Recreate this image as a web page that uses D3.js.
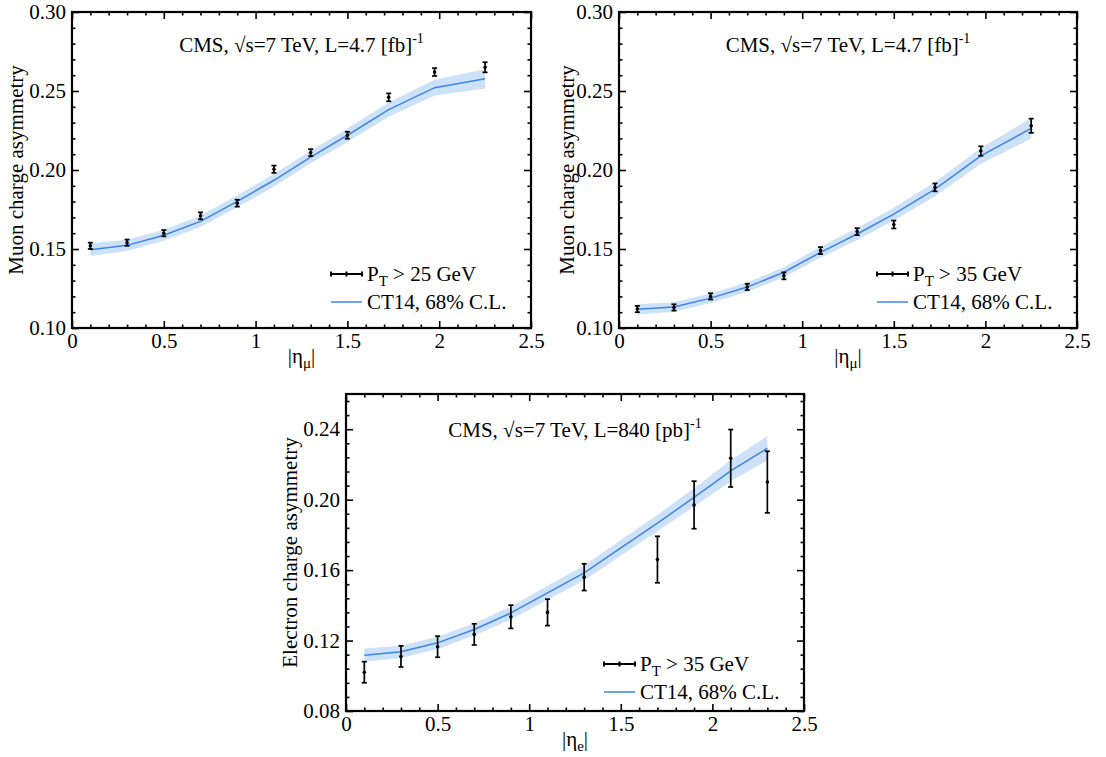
<!DOCTYPE html>
<html><head><meta charset="utf-8">
<script src="https://cdn.jsdelivr.net/npm/d3@7"></script>
<style>
body{margin:0;background:#fff}
svg{display:block}
text{font-family:"Liberation Serif","Times New Roman",serif;fill:#000}
</style>
</head><body>
<svg id="c" width="1106" height="757"></svg>
<script>
// ---------- data ----------
const etaMu = [0.1,0.3,0.5,0.7,0.9,1.1,1.3,1.5,1.725,1.975,2.25];
const muon25Asym = [0.152,0.154,0.160,0.171,0.179,0.2005,0.211,0.222,0.246,0.262,0.265];
const muon25Err  = [0.002,0.002,0.002,0.0022,0.0022,0.0023,0.0022,0.0022,0.0025,0.0025,0.0032];
const ct14Mu25    = [0.1496,0.1523,0.1587,0.1675,0.1802,0.1935,0.2082,0.2220,0.2382,0.2521,0.2578];
const ct14Mu25Err = [0.0040,0.0035,0.0035,0.0035,0.0038,0.0040,0.0040,0.0042,0.0045,0.0050,0.0062];

const muon35Asym = [0.112,0.113,0.120,0.126,0.133,0.149,0.161,0.1655,0.189,0.212,0.228];
const muon35Err  = [0.002,0.002,0.002,0.002,0.0022,0.0022,0.0022,0.0025,0.0025,0.003,0.0045];
const ct14Mu35    = [0.1118,0.1133,0.1189,0.1259,0.1353,0.1479,0.1595,0.1721,0.1879,0.2089,0.2264];
const ct14Mu35Err = [0.0032,0.0030,0.0030,0.0030,0.0032,0.0035,0.0038,0.0040,0.0045,0.0050,0.0065];

const etaE = [0.1,0.3,0.5,0.7,0.9,1.1,1.3,1.7,1.9,2.1,2.3];
const elecAsym = [0.102,0.111,0.1165,0.1235,0.1335,0.136,0.156,0.166,0.197,0.2235,0.210];
const elecErr  = [0.006,0.006,0.006,0.006,0.0066,0.0075,0.0076,0.0132,0.0135,0.0163,0.0175];
const ctEtaE   = [0.1,0.3,0.5,0.7,0.9,1.1,1.3,1.5,1.7,1.9,2.1,2.3];
const ct14E    = [0.1117,0.1136,0.1187,0.1263,0.1357,0.1471,0.1584,0.1726,0.1867,0.2013,0.2164,0.2292];
const ct14EErr = [0.0038,0.0035,0.0035,0.0035,0.0037,0.0040,0.0042,0.0045,0.0047,0.0052,0.0060,0.0069];

const xTicks = [0,0.5,1,1.5,2,2.5];
const yTicksMu = [0.10,0.15,0.20,0.25,0.30];
const yTicksE = [0.08,0.12,0.16,0.20,0.24];

const lineColor = "#3f84ea";
const bandColor = "#cde1f8";

const svg = d3.select("#c");

function panel(cfg){
  const x = d3.scaleLinear().domain([0,2.5]).range([cfg.l,cfg.r]);
  const y = d3.scaleLinear().domain(cfg.yDom).range([cfg.b,cfg.t]);
  const g = svg.append("g");

  const th = cfg.thX.map((v,i)=>({x:v,y:cfg.thY[i],e:cfg.thE[i]}));
  g.append("path").datum(th).attr("fill",bandColor)
    .attr("d", d3.area().x(d=>x(d.x)).y0(d=>y(d.y-d.e)).y1(d=>y(d.y+d.e)));
  g.append("path").datum(th).attr("fill","none").attr("stroke",lineColor).attr("stroke-width",1.5)
    .attr("d", d3.line().x(d=>x(d.x)).y(d=>y(d.y)));

  const pts = cfg.dX.map((v,i)=>({x:v,y:cfg.dY[i],e:cfg.dE[i]}));
  const pg = g.append("g").attr("stroke","#000").attr("stroke-width",1.7);
  pg.selectAll("line.v").data(pts).join("line").attr("class","v")
    .attr("x1",d=>x(d.x)).attr("x2",d=>x(d.x)).attr("y1",d=>y(d.y-d.e)).attr("y2",d=>y(d.y+d.e));
  pg.selectAll("line.t").data(pts).join("line").attr("class","t")
    .attr("x1",d=>x(d.x)-2.5).attr("x2",d=>x(d.x)+2.5).attr("y1",d=>y(d.y+d.e)).attr("y2",d=>y(d.y+d.e));
  pg.selectAll("line.b").data(pts).join("line").attr("class","b")
    .attr("x1",d=>x(d.x)-2.5).attr("x2",d=>x(d.x)+2.5).attr("y1",d=>y(d.y-d.e)).attr("y2",d=>y(d.y-d.e));
  g.selectAll("circle.p").data(pts).join("circle").attr("class","p")
    .attr("cx",d=>x(d.x)).attr("cy",d=>y(d.y)).attr("r",1.8).attr("fill","#000");

  // axes
  const xMinor = d3.range(0,26).map(i=>i/10).filter(v=>!xTicks.some(t=>Math.abs(t-v)<1e-9));
  const [y0,y1] = cfg.yDom;
  const nMin = Math.floor((y1-y0)/cfg.yMinor+1e-6);
  const yMinor = d3.range(0,nMin+1).map(i=>y0+i*cfg.yMinor)
    .filter(v=>v<=y1+1e-9 && !cfg.yTicks.some(t=>Math.abs(t-v)<1e-9));
  const fmtY = d3.format(".2f");
  const fmtX = d3.format("~g");

  function style(sel){
    sel.select(".domain").remove();
    sel.selectAll("line").attr("stroke","#000").attr("stroke-width",1.6);
    sel.selectAll("text").attr("font-size",21).attr("fill","#000");
    sel.attr("font-family",null).attr("font-size",null);
  }
  g.append("g").attr("transform",`translate(0,${cfg.b})`)
    .call(d3.axisBottom(x).tickValues(xTicks).tickSize(-7).tickPadding(5).tickFormat(fmtX)).call(style);
  g.append("g").attr("transform",`translate(0,${cfg.b})`)
    .call(d3.axisBottom(x).tickValues(xMinor).tickSize(-3.5).tickFormat("")).call(style);
  g.append("g").attr("transform",`translate(0,${cfg.t})`)
    .call(d3.axisTop(x).tickValues(xTicks).tickSize(-7).tickFormat("")).call(style);
  g.append("g").attr("transform",`translate(0,${cfg.t})`)
    .call(d3.axisTop(x).tickValues(xMinor).tickSize(-3.5).tickFormat("")).call(style);
  g.append("g").attr("transform",`translate(${cfg.l},0)`)
    .call(d3.axisLeft(y).tickValues(cfg.yTicks).tickSize(-7).tickPadding(6).tickFormat(fmtY)).call(style);
  g.append("g").attr("transform",`translate(${cfg.l},0)`)
    .call(d3.axisLeft(y).tickValues(yMinor).tickSize(-3.5).tickFormat("")).call(style);
  g.append("g").attr("transform",`translate(${cfg.r},0)`)
    .call(d3.axisRight(y).tickValues(cfg.yTicks).tickSize(-7).tickFormat("")).call(style);
  g.append("g").attr("transform",`translate(${cfg.r},0)`)
    .call(d3.axisRight(y).tickValues(yMinor).tickSize(-3.5).tickFormat("")).call(style);

  g.append("rect").attr("x",cfg.l).attr("y",cfg.t).attr("width",cfg.r-cfg.l).attr("height",cfg.b-cfg.t)
    .attr("fill","none").attr("stroke","#000").attr("stroke-width",2.2);

  // title
  const tt = g.append("text").attr("x",(cfg.l+cfg.r)/2).attr("y",cfg.t+cfg.titleDy)
    .attr("text-anchor","middle").attr("font-size",21);
  tt.append("tspan").text(cfg.title);
  tt.append("tspan").attr("font-size",14).attr("dy",-9).text("-1");

  // x title
  const xt = g.append("text").attr("x",(cfg.l+cfg.r)/2).attr("y",cfg.b+35)
    .attr("text-anchor","middle").attr("font-size",21);
  xt.append("tspan").text("|η");
  xt.append("tspan").attr("font-size",15).attr("dy",5).text(cfg.sub);
  xt.append("tspan").attr("dy",-5).text("|");

  // y title
  g.append("text").attr("transform",`translate(${cfg.l-cfg.ytDx},${(cfg.t+cfg.b)/2}) rotate(-90)`)
    .attr("text-anchor","middle").attr("font-size",21).text(cfg.yTitle);

  // legend
  const lx = cfg.r-200, ly1 = cfg.b-cfg.legDy, ly2 = ly1+28;
  const lg = g.append("g").attr("stroke","#000").attr("stroke-width",2);
  lg.append("line").attr("x1",lx).attr("x2",lx+31).attr("y1",ly1).attr("y2",ly1);
  [lx, lx+15.5, lx+31].forEach(v=>{
    lg.append("line").attr("x1",v).attr("x2",v).attr("y1",ly1-2.5).attr("y2",ly1+2.5);
  });
  const t1 = g.append("text").attr("x",lx+36).attr("y",ly1+7).attr("font-size",21);
  t1.append("tspan").text("P");
  t1.append("tspan").attr("font-size",15).attr("dy",5).text("T");
  t1.append("tspan").attr("dy",-5).text(" > "+cfg.ptCut+" GeV");
  g.append("line").attr("x1",lx).attr("x2",lx+31).attr("y1",ly2).attr("y2",ly2)
    .attr("stroke",lineColor).attr("stroke-width",1.5);
  g.append("text").attr("x",lx+36).attr("y",ly2+7).attr("font-size",21).text("CT14, 68% C.L.");
}

panel({l:72,r:531,t:12,b:328,yDom:[0.10,0.30],yTicks:yTicksMu,yMinor:0.01,
  dX:etaMu,dY:muon25Asym,dE:muon25Err,thX:etaMu,thY:ct14Mu25,thE:ct14Mu25Err,
  title:"CMS, √s=7 TeV, L=4.7 [fb]",titleDy:40,sub:"μ",yTitle:"Muon charge asymmetry",ytDx:49,
  ptCut:"25",legDy:54});
panel({l:619,r:1077,t:12,b:328,yDom:[0.10,0.30],yTicks:yTicksMu,yMinor:0.01,
  dX:etaMu,dY:muon35Asym,dE:muon35Err,thX:etaMu,thY:ct14Mu35,thE:ct14Mu35Err,
  title:"CMS, √s=7 TeV, L=4.7 [fb]",titleDy:40,sub:"μ",yTitle:"Muon charge asymmetry",ytDx:45,
  ptCut:"35",legDy:54});
panel({l:346,r:804,t:394,b:711,yDom:[0.08,0.26],yTicks:yTicksE,yMinor:0.008,
  dX:etaE,dY:elecAsym,dE:elecErr,thX:ctEtaE,thY:ct14E,thE:ct14EErr,
  title:"CMS, √s=7 TeV, L=840 [pb]",titleDy:43,sub:"e",yTitle:"Electron charge asymmetry",ytDx:49,
  ptCut:"35",legDy:47});
</script>
</body></html>
